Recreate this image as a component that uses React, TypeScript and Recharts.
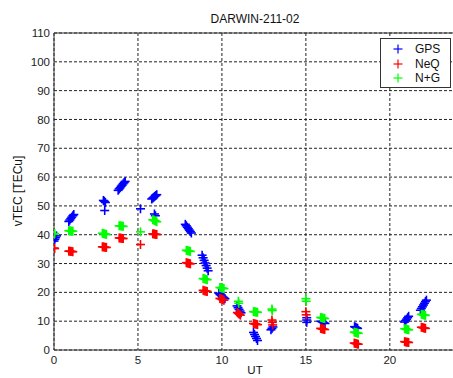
import React from 'react';
import { ScatterChart, Scatter, XAxis, YAxis, CartesianGrid, ReferenceLine } from 'recharts';

const chartTitle = 'DARWIN-211-02';
const xLabel = 'UT';
const yLabel = 'vTEC [TECu]';
const xTicks = [0, 5, 10, 15, 20];
const yTicks = [0, 10, 20, 30, 40, 50, 60, 70, 80, 90, 100, 110];

// GPS
const gpsUT = [
  0.0, 0.05, 0.1, 0.15,
  0.88, 0.94, 1.0, 1.06, 1.12, 1.18,
  2.94, 3.0, 3.06, 3.02,
  3.82, 3.88, 3.94, 4.0, 4.06, 4.12, 4.18, 4.24,
  5.15,
  5.82, 5.88, 5.94, 6.0, 6.06, 6.12, 5.98, 6.04,
  7.82, 7.88, 7.94, 8.0, 8.06, 8.12, 8.18,
  8.82, 8.88, 8.94, 9.0, 9.06, 9.12, 9.18,
  9.82, 9.88, 9.94, 10.0, 10.06, 10.12, 10.18,
  10.9, 10.96, 11.02, 11.08, 11.14,
  11.88, 11.94, 12.0, 12.06, 12.12,
  12.92, 12.98, 13.04,
  15.05, 15.05, 15.05,
  15.9, 15.96, 16.02, 16.08, 16.14,
  17.9, 17.96, 18.02, 18.08,
  20.88, 20.94, 21.0, 21.06, 21.12,
  21.82, 21.88, 21.94, 22.0, 22.06, 22.12, 22.18,
];
const gpsTEC = [
  37.8, 38.4, 39.0, 39.6,
  44.6, 45.1, 45.6, 46.1, 46.6, 47.0,
  51.9, 51.6, 51.2, 48.4,
  55.4, 55.9, 56.3, 56.8, 57.2, 57.7, 58.1, 58.5,
  49.0,
  52.4, 52.7, 53.0, 53.3, 53.6, 53.9, 47.2, 46.6,
  43.6, 43.1, 42.6, 42.1, 41.6, 41.1, 40.6,
  32.9, 32.0, 31.1, 30.2, 29.3, 28.4, 27.5,
  19.7, 19.3, 19.0, 18.7, 18.4, 18.1, 17.8,
  15.3, 14.7, 14.1, 13.5, 12.9,
  6.1, 5.4, 4.7, 4.0, 3.3,
  7.0, 7.5, 8.0,
  9.6, 10.4, 11.2,
  10.0, 9.8, 9.6, 9.4, 9.2,
  8.1, 7.9, 7.7, 7.5,
  9.7, 10.2, 10.7, 11.2, 11.7,
  13.8, 14.4, 15.0, 15.6, 16.2, 16.8, 17.3,
];

// NeQuick
const neqUT = [
  0.0, 0.04,
  0.88, 0.94, 1.0, 1.06, 1.12,
  2.88, 2.94, 3.0, 3.06, 3.12,
  3.88, 3.94, 4.0, 4.06, 4.12,
  5.15,
  5.88, 5.94, 6.0, 6.06, 6.12,
  7.88, 7.94, 8.0, 8.06, 8.12,
  8.88, 8.94, 9.0, 9.06, 9.12,
  9.88, 9.94, 10.0, 10.06, 10.12,
  10.92, 10.98, 11.04, 11.1,
  11.88, 11.94, 12.0, 12.06, 12.12,
  12.98, 13.0, 13.02,
  15.0, 15.02,
  15.88, 15.94, 16.0, 16.06, 16.12,
  17.88, 17.94, 18.0, 18.06, 18.12,
  20.88, 20.94, 21.0, 21.06, 21.12,
  21.88, 21.94, 22.0, 22.06, 22.12,
];
const neqTEC = [
  35.4, 35.2,
  34.3, 34.3, 34.2, 34.2, 34.1,
  35.8, 35.8, 35.7, 35.6, 35.6,
  38.9, 38.9, 38.8, 38.7, 38.7,
  36.6,
  40.3, 40.3, 40.2, 40.1, 40.1,
  30.3, 30.2, 30.1, 30.0, 29.9,
  20.7, 20.6, 20.5, 20.4, 20.3,
  17.9, 17.8, 17.6, 17.4, 17.3,
  13.0, 12.7, 12.4, 12.1,
  9.2, 9.1, 9.0, 8.9, 8.8,
  10.4, 9.6, 8.7,
  13.3, 12.2,
  7.5, 7.4, 7.3, 7.2, 7.1,
  2.4, 2.3, 2.2, 2.1, 2.0,
  2.9, 2.8, 2.7, 2.7, 2.6,
  7.9, 7.8, 7.7, 7.6, 7.5,
];

// NeQuick + GPS
const ngUT = [
  0.0, 0.04,
  0.88, 0.94, 1.0, 1.06, 1.12,
  2.88, 2.94, 3.0, 3.06, 3.12,
  3.88, 3.94, 4.0, 4.06, 4.12,
  5.15,
  5.88, 5.94, 6.0, 6.06, 6.12,
  7.88, 7.94, 8.0, 8.06, 8.12,
  8.88, 8.94, 9.0, 9.06, 9.12,
  9.88, 9.94, 10.0, 10.06, 10.12,
  10.98, 11.0,
  11.88, 11.94, 12.0, 12.06, 12.12,
  12.98, 13.0,
  15.0, 15.02,
  15.88, 15.94, 16.0, 16.06, 16.12,
  17.88, 17.94, 18.0, 18.06, 18.12,
  20.88, 20.94, 21.0, 21.06, 21.12,
  21.88, 21.94, 22.0, 22.06, 22.12,
];
const ngTEC = [
  40.2, 40.4,
  41.4, 41.4, 41.3, 41.2, 41.2,
  40.5, 40.4, 40.3, 40.2, 40.1,
  43.1, 43.1, 43.0, 42.9, 42.9,
  41.0,
  45.2, 45.1, 44.9, 44.7, 44.5,
  34.6, 34.5, 34.4, 34.3, 34.2,
  24.8, 24.7, 24.6, 24.5, 24.4,
  21.7, 21.6, 21.5, 21.4, 21.3,
  16.9, 16.2,
  13.3, 13.3, 13.2, 13.1, 13.1,
  14.2, 13.7,
  17.8, 16.9,
  11.3, 11.2, 11.1, 11.0, 10.9,
  6.2, 6.1, 6.0, 5.9, 5.8,
  7.4, 7.3, 7.2, 7.1, 7.0,
  12.4, 12.3, 12.2, 12.1, 12.0,
];

const seriesNames = ['GPS', 'NeQ', 'N+G'];
const seriesColors = ['#0000ff', '#ff0000', '#00ff00'];

const toPoints = (xs: number[], ys: number[]) => xs.map((x, i) => ({ x, y: ys[i] }));

const seriesData = [toPoints(gpsUT, gpsTEC), toPoints(neqUT, neqTEC), toPoints(ngUT, ngTEC)];

const FONT = '"Liberation Sans", Arial, Helvetica, sans-serif';

const makePlus = (color: string) => (props: any) => {
  const { cx, cy } = props;
  if (cx == null || cy == null) return <g />;
  const r = 4.5;
  return (
    <g>
      <line x1={cx - r} y1={cy} x2={cx + r} y2={cy} stroke={color} strokeWidth={1.6} />
      <line x1={cx} y1={cy - r} x2={cx} y2={cy + r} stroke={color} strokeWidth={1.6} />
    </g>
  );
};

const LegendBox = () => (
  <div
    style={{
      position: 'absolute',
      left: 380,
      top: 38,
      width: 69,
      height: 48,
      border: '1px solid #333',
      background: '#fff',
      fontFamily: FONT,
      fontSize: 12,
      color: '#111',
    }}
  >
    {seriesNames.map((n, i) => (
      <div key={n} style={{ position: 'absolute', left: 0, top: 3 + i * 14.5, height: 14, width: 69 }}>
        <svg width={20} height={14} style={{ position: 'absolute', left: 11, top: 0 }}>
          <line x1={1.5} y1={7} x2={10.5} y2={7} stroke={seriesColors[i]} strokeWidth={1.2} />
          <line x1={6} y1={2.5} x2={6} y2={11.5} stroke={seriesColors[i]} strokeWidth={1.2} />
        </svg>
        <span style={{ position: 'absolute', left: 34, top: 0, lineHeight: '14px' }}>{n}</span>
      </div>
    ))}
  </div>
);

export default function App() {
  return (
    <div
      style={{
        position: 'absolute',
        left: 0,
        top: 0,
        width: 453,
        height: 378,
        overflow: 'hidden',
        background: '#fff',
        fontFamily: FONT,
      }}
    >
      <ScatterChart width={470} height={378} margin={{ top: 33, right: 13, bottom: 0, left: 0 }}>
        <CartesianGrid stroke="#222" strokeDasharray="3 2" strokeWidth={1} />
        <XAxis
          type="number"
          dataKey="x"
          domain={[0, 24]}
          ticks={xTicks}
          interval={0}
          height={28}
          tickSize={0}
          tickMargin={6}
          tickLine={false}
          axisLine={{ stroke: '#333' }}
          tick={{ fontSize: 11.5, fill: '#222', fontFamily: FONT }}
          allowDataOverflow
        />
        <YAxis
          type="number"
          dataKey="y"
          domain={[0, 110]}
          ticks={yTicks}
          interval={0}
          width={54}
          tickSize={0}
          tickMargin={4}
          tickLine={false}
          axisLine={{ stroke: '#333' }}
          tick={{ fontSize: 11.5, fill: '#222', fontFamily: FONT }}
          allowDataOverflow
        />
        <ReferenceLine y={110} stroke="#333" strokeWidth={1} />
        {seriesData.map((d, i) => (
          <Scatter
            key={seriesNames[i]}
            name={seriesNames[i]}
            data={d}
            fill={seriesColors[i]}
            shape={makePlus(seriesColors[i])}
            isAnimationActive={false}
          />
        ))}
      </ScatterChart>
      <div
        style={{
          position: 'absolute',
          left: 155,
          width: 200,
          top: 12,
          textAlign: 'center',
          fontSize: 12,
          lineHeight: '14px',
          color: '#111',
        }}
      >
        {chartTitle}
      </div>
      <div
        style={{
          position: 'absolute',
          left: 205,
          width: 100,
          top: 364,
          textAlign: 'center',
          fontSize: 11.5,
          lineHeight: '13px',
          color: '#111',
        }}
      >
        {xLabel}
      </div>
      <div
        style={{
          position: 'absolute',
          left: 18 - 50,
          top: 191 - 7,
          width: 100,
          height: 14,
          textAlign: 'center',
          fontSize: 12,
          lineHeight: '14px',
          color: '#111',
          transform: 'rotate(-90deg)',
          transformOrigin: '50% 50%',
        }}
      >
        {yLabel}
      </div>
      <LegendBox />
    </div>
  );
}
